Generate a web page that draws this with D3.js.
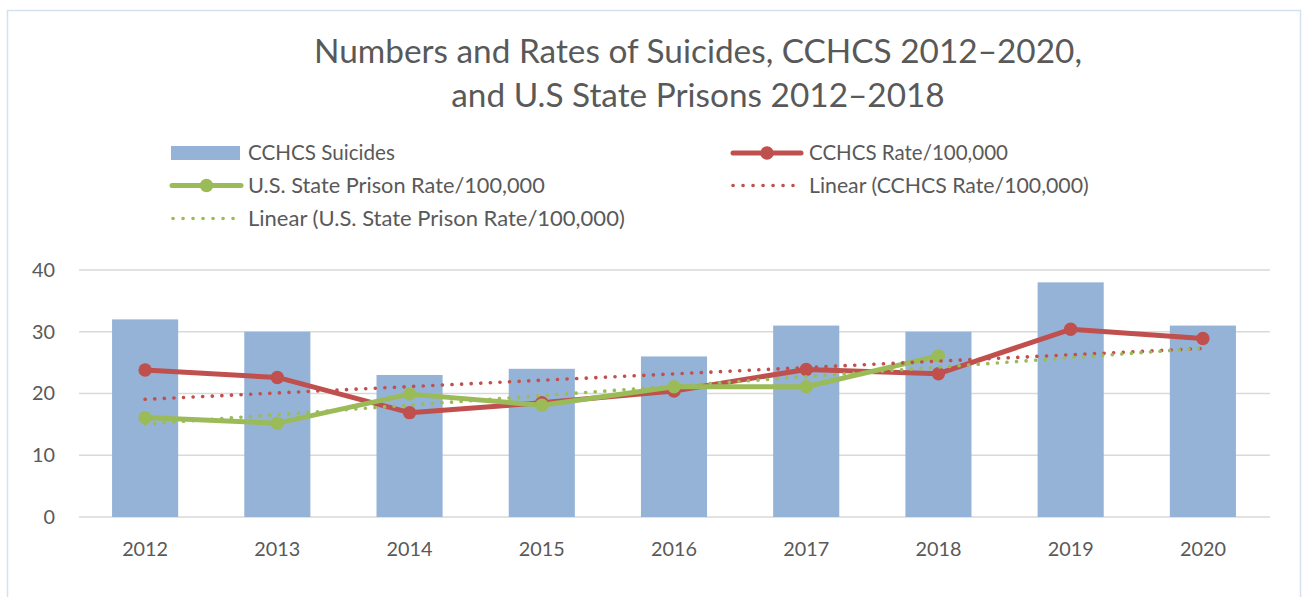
<!DOCTYPE html>
<html>
<head>
<meta charset="utf-8">
<script src="https://cdn.jsdelivr.net/npm/d3@7"></script>
<style>
  html, body { margin: 0; padding: 0; background: #fff; }
  svg { display: block; }
  text { font-family: Lato, "Open Sans", sans-serif; fill: #595959; }
</style>
</head>
<body>
<svg id="chart" width="1302" height="597"></svg>
<script>
// ---- data ----
const years = ["2012", "2013", "2014", "2015", "2016", "2017", "2018", "2019", "2020"];
const cchcsSuicides = [32, 30, 23, 24, 26, 31, 30, 38, 31];
const cchcsRate = [23.8, 22.6, 16.9, 18.5, 20.4, 23.9, 23.2, 30.4, 28.9];
const statePrisonRate = [16.1, 15.2, 19.9, 18.1, 21.1, 21.1, 26.1, null, null];
const yTicks = [0, 10, 20, 30, 40];
const titleLines = ["Numbers and Rates of Suicides, CCHCS 2012\u20132020,", "and U.S State Prisons 2012\u20132018"];
const legendLabels = ["CCHCS Suicides", "CCHCS Rate/100,000", "U.S. State Prison Rate/100,000",
  "Linear (CCHCS Rate/100,000)", "Linear (U.S. State Prison Rate/100,000)"];

// ---- colors ----
const cBar = "#95B3D7", cRed = "#C0504D", cGreen = "#9BBB59", cGrid = "#D9D9D9";

const svg = d3.select("#chart");

// chart border
svg.append("rect").attr("x", 7.5).attr("y", 10.5).attr("width", 1293).attr("height", 600)
  .attr("fill", "#fff").attr("stroke", "#D5E1F0").attr("stroke-width", 1.5);

const x = d3.scaleBand().domain(years).range([79, 1269]).paddingInner(0.5).paddingOuter(0.25);
const y = d3.scaleLinear().domain([0, 40]).range([517, 270]);
const cx = d => x(d) + x.bandwidth() / 2;

// font fitting helper
function fit(sel, target) {
  const node = sel.node();
  const fs = parseFloat(sel.attr("font-size"));
  const w = node.getComputedTextLength();
  const ns = fs * target / w;
  sel.attr("font-size", ns);
  return ns;
}

// title
const t1 = svg.append("text").attr("x", 698).attr("y", 63).attr("text-anchor", "middle")
  .attr("font-size", 30).text(titleLines[0]);
const tSize = fit(t1, 768);
svg.append("text").attr("x", 698).attr("y", 107).attr("text-anchor", "middle")
  .attr("font-size", tSize).text(titleLines[1]);

// gridlines
svg.append("g").selectAll("line").data(yTicks).join("line")
  .attr("x1", 79).attr("x2", 1270)
  .attr("y1", d => y(d)).attr("y2", d => y(d))
  .attr("stroke", cGrid).attr("stroke-width", 1.5);

// axes (text only)
const yAxis = svg.append("g").attr("transform", "translate(62,0)")
  .call(d3.axisLeft(y).tickValues(yTicks).tickSize(0).tickPadding(0));
yAxis.select(".domain").remove();
const xAxis = svg.append("g").attr("transform", "translate(0,537)")
  .call(d3.axisBottom(x).tickSize(0).tickPadding(0));
xAxis.select(".domain").remove();

const probe = xAxis.select("text").attr("font-size", 20);
const axSize = fit(probe, 46);
xAxis.selectAll("text").attr("font-size", axSize).attr("font-family", null).attr("fill", "#595959").attr("dy", "0.95em");
yAxis.selectAll("text").attr("font-size", axSize).attr("font-family", null).attr("fill", "#595959").attr("x", -7);
xAxis.attr("font-family", null); yAxis.attr("font-family", null);

// bars
svg.append("g").selectAll("rect").data(years).join("rect")
  .attr("x", d => x(d)).attr("width", x.bandwidth())
  .attr("y", (d, i) => y(cchcsSuicides[i]))
  .attr("height", (d, i) => y(0) - y(cchcsSuicides[i]))
  .attr("fill", cBar);

// linear fit (trendline, as in the source chart)
function linFit(vals) {
  const pts = vals.map((v, i) => [i, v]).filter(p => p[1] != null);
  const mx = d3.mean(pts, p => p[0]), my = d3.mean(pts, p => p[1]);
  const sxy = d3.sum(pts, p => (p[0] - mx) * (p[1] - my));
  const sxx = d3.sum(pts, p => (p[0] - mx) ** 2);
  const b = sxy / sxx, a = my - b * mx;
  return i => a + b * i;
}

const line = d3.line().defined(d => d.v != null).x(d => cx(d.year)).y(d => y(d.v));

function drawSeries(vals, color) {
  const data = years.map((yr, i) => ({ year: yr, v: vals[i] }));
  svg.append("path").datum(data).attr("d", line).attr("fill", "none")
    .attr("stroke", color).attr("stroke-width", 5).attr("stroke-linejoin", "round").attr("stroke-linecap", "round");
  svg.append("g").selectAll("circle").data(data.filter(d => d.v != null)).join("circle")
    .attr("cx", d => cx(d.year)).attr("cy", d => y(d.v)).attr("r", 6.7).attr("fill", color);
}
function drawTrend(vals, color) {
  const f = linFit(vals);
  const data = [{ year: years[0], v: f(0) }, { year: years[years.length - 1], v: f(years.length - 1) }];
  svg.append("path").datum(data).attr("d", line).attr("fill", "none")
    .attr("stroke", color).attr("stroke-width", 3.6).attr("stroke-linecap", "round")
    .attr("stroke-dasharray", "0.1 9.5");
}

drawSeries(cchcsRate, cRed);
drawSeries(statePrisonRate, cGreen);
drawTrend(cchcsRate, cRed);
drawTrend(statePrisonRate, cGreen);

// legend
const lg = svg.append("g");
const rows = [153, 185.5, 218.5];
function legendText(xp, yp, label, w) {
  const t = lg.append("text").attr("x", xp).attr("y", yp).attr("dy", "0.35em").attr("font-size", 20).text(label);
  fit(t, w);
  return t;
}
// bar swatch
lg.append("rect").attr("x", 171).attr("y", 146).attr("width", 69).attr("height", 14).attr("fill", cBar);
function lineSym(x1, x2, yp, color, marker) {
  lg.append("line").attr("x1", x1).attr("x2", x2).attr("y1", yp).attr("y2", yp)
    .attr("stroke", color).attr("stroke-width", 5).attr("stroke-linecap", "round");
  if (marker) lg.append("circle").attr("cx", (x1 + x2) / 2).attr("cy", yp).attr("r", 6.7).attr("fill", color);
}
function dotSym(x1, x2, yp, color) {
  lg.append("line").attr("x1", x1).attr("x2", x2).attr("y1", yp).attr("y2", yp)
    .attr("stroke", color).attr("stroke-width", 3.6).attr("stroke-linecap", "round")
    .attr("stroke-dasharray", "0.1 9.9");
}
lineSym(172, 241, rows[1], cGreen, true);
dotSym(173, 240, rows[2], cGreen);
lineSym(733, 801, rows[0], cRed, true);
dotSym(733, 793, rows[1], cRed);
legendText(248, rows[0], legendLabels[0], 147);
legendText(248, rows[1], legendLabels[2], 297);
legendText(248, rows[2], legendLabels[4], 377);
legendText(809, rows[0], legendLabels[1], 199);
legendText(809, rows[1], legendLabels[3], 280);
</script>
</body>
</html>
